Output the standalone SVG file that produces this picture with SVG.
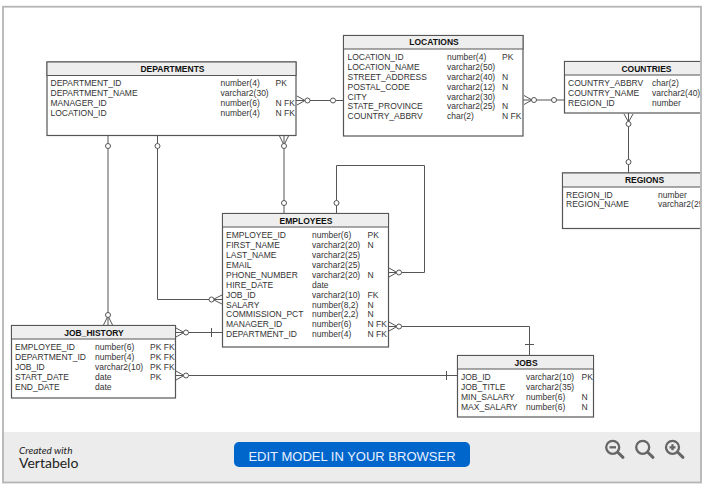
<svg xmlns="http://www.w3.org/2000/svg" width="709" height="486" viewBox="0 0 709 486">
<style>
text{font-family:"Liberation Sans",Arial,sans-serif;font-size:8.5px;fill:#333}
.t{font-weight:700;text-anchor:middle;fill:#111}
.box{fill:#fff;stroke:#555;stroke-width:1.2}
.hd{fill:#eeeeee;stroke:#555;stroke-width:1}
.c{fill:none;stroke:#555;stroke-width:1}
.o{fill:#fff;stroke:#555;stroke-width:1}
.z{fill:none;stroke:#666;stroke-width:2.3}
.h{fill:none;stroke:#666;stroke-width:3;stroke-linecap:round}
</style>
<defs><clipPath id="fr"><rect x="3" y="7" width="697.500" height="475"/></clipPath></defs>
<rect width="709" height="486" fill="#fff"/>
<g clip-path="url(#fr)">
<g id="connectors">
<path class="c" d="M296 100.500H343.500M297 96L305 100.500L297 105"/><circle class="o" cx="307.500" cy="100.500" r="2.500"/><circle class="o" cx="333" cy="100.500" r="2.500"/>
<path class="c" d="M523 100H564.500M524 95.500L532 100L524 104.500"/><circle class="o" cx="534" cy="100" r="2.500"/><circle class="o" cx="554" cy="100" r="2.500"/>
<path class="c" d="M628.500 113V173M624 114L628.500 122L633 114"/><circle class="o" cx="628.500" cy="124" r="2.500"/><circle class="o" cx="628.500" cy="162" r="2.500"/>
<path class="c" d="M284 135.500V213.500M279.500 136L284 145L288.500 136"/><circle class="o" cx="284" cy="146" r="2.500"/><circle class="o" cx="284" cy="203" r="2.500"/>
<path class="c" d="M108 135.500V325.500M103.500 325L108 316L112.500 325"/><circle class="o" cx="108" cy="146" r="2.500"/><circle class="o" cx="108" cy="315" r="2.500"/>
<path class="c" d="M157.500 135.500V299.500H222.500M222 295L213 299.500L222 304"/><circle class="o" cx="157.500" cy="146" r="2.500"/><circle class="o" cx="211.500" cy="299.500" r="2.500"/>
<path class="c" d="M336.500 213.500V165.500H424.500V272.500H388.500M389 268L397 272.500L389 277"/><circle class="o" cx="336.500" cy="203" r="2.500"/><circle class="o" cx="399" cy="272.500" r="2.500"/>
<path class="c" d="M175 332.500H222.500M176 328L184 332.500L176 337M211.500 328V337"/><circle class="o" cx="186" cy="332.500" r="2.500"/>
<path class="c" d="M388.500 326.500H529.500V355.500M389 322L397 326.500L389 331M525 344.500H534"/><circle class="o" cx="399" cy="326.500" r="2.500"/>
<path class="c" d="M175 375.500H457.500M176 371L184 375.500L176 380M446.500 371V380"/><circle class="o" cx="186" cy="375.500" r="2.500"/>
</g>
<g id="departments"><rect class="box" x="47" y="62" width="249" height="73.500"/><rect class="hd" x="47" y="62" width="249" height="13.500"/><text class="t" x="172.500" y="72">DEPARTMENTS</text>
<text x="50.500" y="86">DEPARTMENT_ID</text><text x="220.500" y="86">number(4)</text><text x="275.500" y="86">PK</text>
<text x="50.500" y="96">DEPARTMENT_NAME</text><text x="220.500" y="96">varchar2(30)</text>
<text x="50.500" y="106">MANAGER_ID</text><text x="220.500" y="106">number(6)</text><text x="275.500" y="106">N FK</text>
<text x="50.500" y="116">LOCATION_ID</text><text x="220.500" y="116">number(4)</text><text x="275.500" y="116">N FK</text></g>
<g id="locations"><rect class="box" x="343.500" y="35.500" width="179.500" height="100.500"/><rect class="hd" x="343.500" y="35.500" width="179.500" height="13.500"/><text class="t" x="434" y="45">LOCATIONS</text>
<text x="347.500" y="60">LOCATION_ID</text><text x="447" y="60">number(4)</text><text x="502" y="60">PK</text>
<text x="347.500" y="70">LOCATION_NAME</text><text x="447" y="70">varchar2(50)</text>
<text x="347.500" y="80">STREET_ADDRESS</text><text x="447" y="80">varchar2(40)</text><text x="502" y="80">N</text>
<text x="347.500" y="90">POSTAL_CODE</text><text x="447" y="90">varchar2(12)</text><text x="502" y="90">N</text>
<text x="347.500" y="100">CITY</text><text x="447" y="100">varchar2(30)</text>
<text x="347.500" y="109">STATE_PROVINCE</text><text x="447" y="109">varchar2(25)</text><text x="502" y="109">N</text>
<text x="347.500" y="119">COUNTRY_ABBRV</text><text x="447" y="119">char(2)</text><text x="502" y="119">N FK</text></g>
<g id="countries"><rect class="box" x="564.500" y="61.500" width="150" height="51.500"/><rect class="hd" x="564.500" y="61.500" width="150" height="13.500"/><text class="t" x="646.500" y="72">COUNTRIES</text>
<text x="568" y="86">COUNTRY_ABBRV</text><text x="652" y="86">char(2)</text>
<text x="568" y="96">COUNTRY_NAME</text><text x="652" y="96">varchar2(40)</text>
<text x="568" y="106">REGION_ID</text><text x="652" y="106">number</text></g>
<g id="regions"><rect class="box" x="562.500" y="173" width="150" height="55.500"/><rect class="hd" x="562.500" y="173" width="150" height="14"/><text class="t" x="644.500" y="183">REGIONS</text>
<text x="566" y="198">REGION_ID</text><text x="658" y="198">number</text>
<text x="566" y="207">REGION_NAME</text><text x="658" y="207">varchar2(25)</text></g>
<g id="employees"><rect class="box" x="222.500" y="213.500" width="166" height="133.500"/><rect class="hd" x="222.500" y="213.500" width="166" height="13.500"/><text class="t" x="306" y="224">EMPLOYEES</text>
<text x="226" y="238">EMPLOYEE_ID</text><text x="312" y="238">number(6)</text><text x="367.500" y="238">PK</text>
<text x="226" y="248">FIRST_NAME</text><text x="312" y="248">varchar2(20)</text><text x="367.500" y="248">N</text>
<text x="226" y="258">LAST_NAME</text><text x="312" y="258">varchar2(25)</text>
<text x="226" y="268">EMAIL</text><text x="312" y="268">varchar2(25)</text>
<text x="226" y="278">PHONE_NUMBER</text><text x="312" y="278">varchar2(20)</text><text x="367.500" y="278">N</text>
<text x="226" y="288">HIRE_DATE</text><text x="312" y="288">date</text>
<text x="226" y="298">JOB_ID</text><text x="312" y="298">varchar2(10)</text><text x="367.500" y="298">FK</text>
<text x="226" y="308">SALARY</text><text x="312" y="308">number(8,2)</text><text x="367.500" y="308">N</text>
<text x="226" y="317">COMMISSION_PCT</text><text x="312" y="317">number(2,2)</text><text x="367.500" y="317">N</text>
<text x="226" y="327">MANAGER_ID</text><text x="312" y="327">number(6)</text><text x="367.500" y="327">N FK</text>
<text x="226" y="337">DEPARTMENT_ID</text><text x="312" y="337">number(4)</text><text x="367.500" y="337">N FK</text></g>
<g id="job_history"><rect class="box" x="11.500" y="325.500" width="164" height="72.500"/><rect class="hd" x="11.500" y="325.500" width="164" height="13.500"/><text class="t" x="94" y="336">JOB_HISTORY</text>
<text x="15" y="350">EMPLOYEE_ID</text><text x="95" y="350">number(6)</text><text x="150" y="350">PK FK</text>
<text x="15" y="360">DEPARTMENT_ID</text><text x="95" y="360">number(4)</text><text x="150" y="360">PK FK</text>
<text x="15" y="370">JOB_ID</text><text x="95" y="370">varchar2(10)</text><text x="150" y="370">PK FK</text>
<text x="15" y="380">START_DATE</text><text x="95" y="380">date</text><text x="150" y="380">PK</text>
<text x="15" y="390">END_DATE</text><text x="95" y="390">date</text></g>
<g id="jobs"><rect class="box" x="457.500" y="355.500" width="136" height="61.500"/><rect class="hd" x="457.500" y="355.500" width="136" height="13.500"/><text class="t" x="526" y="366">JOBS</text>
<text x="461" y="380">JOB_ID</text><text x="526" y="380">varchar2(10)</text><text x="581.500" y="380">PK</text>
<text x="461" y="390">JOB_TITLE</text><text x="526" y="390">varchar2(35)</text>
<text x="461" y="400">MIN_SALARY</text><text x="526" y="400">number(6)</text><text x="581.500" y="400">N</text>
<text x="461" y="410">MAX_SALARY</text><text x="526" y="410">number(6)</text><text x="581.500" y="410">N</text></g>
</g>
<g id="footer">
<rect x="3" y="432" width="698" height="50.500" fill="#ececec"/>
<text x="19" y="454" style="font-family:Lato,sans-serif;font-size:10px;font-style:italic;fill:#222">Created with</text>
<text x="19" y="468" style="font-family:Lato,sans-serif;font-size:14px;fill:#222">Vertabelo</text>
<rect x="234" y="442" width="236" height="25" rx="5" fill="#0066cc"/>
<text x="352" y="460.500" style="font-size:13px;fill:#e8f0ff;text-anchor:middle">EDIT MODEL IN YOUR BROWSER</text>
<g><circle class="z" cx="612.700" cy="447.300" r="6.500"/><path class="h" d="M618 452.500L623 457.300"/><path class="z" d="M609.500 447.300H616"/></g>
<g><circle class="z" cx="642.700" cy="447.300" r="6.500"/><path class="h" d="M648 452.500L653 457.300"/></g>
<g><circle class="z" cx="672.500" cy="447.300" r="6.500"/><path class="h" d="M678 452.500L683 457.300"/><path class="z" d="M669.500 447.300H675.500M672.500 444.300V450.300"/></g>
</g>
<rect x="3" y="6.700" width="698" height="475.800" fill="none" stroke="#b5b5b5" stroke-width="1.800"/>
</svg>
